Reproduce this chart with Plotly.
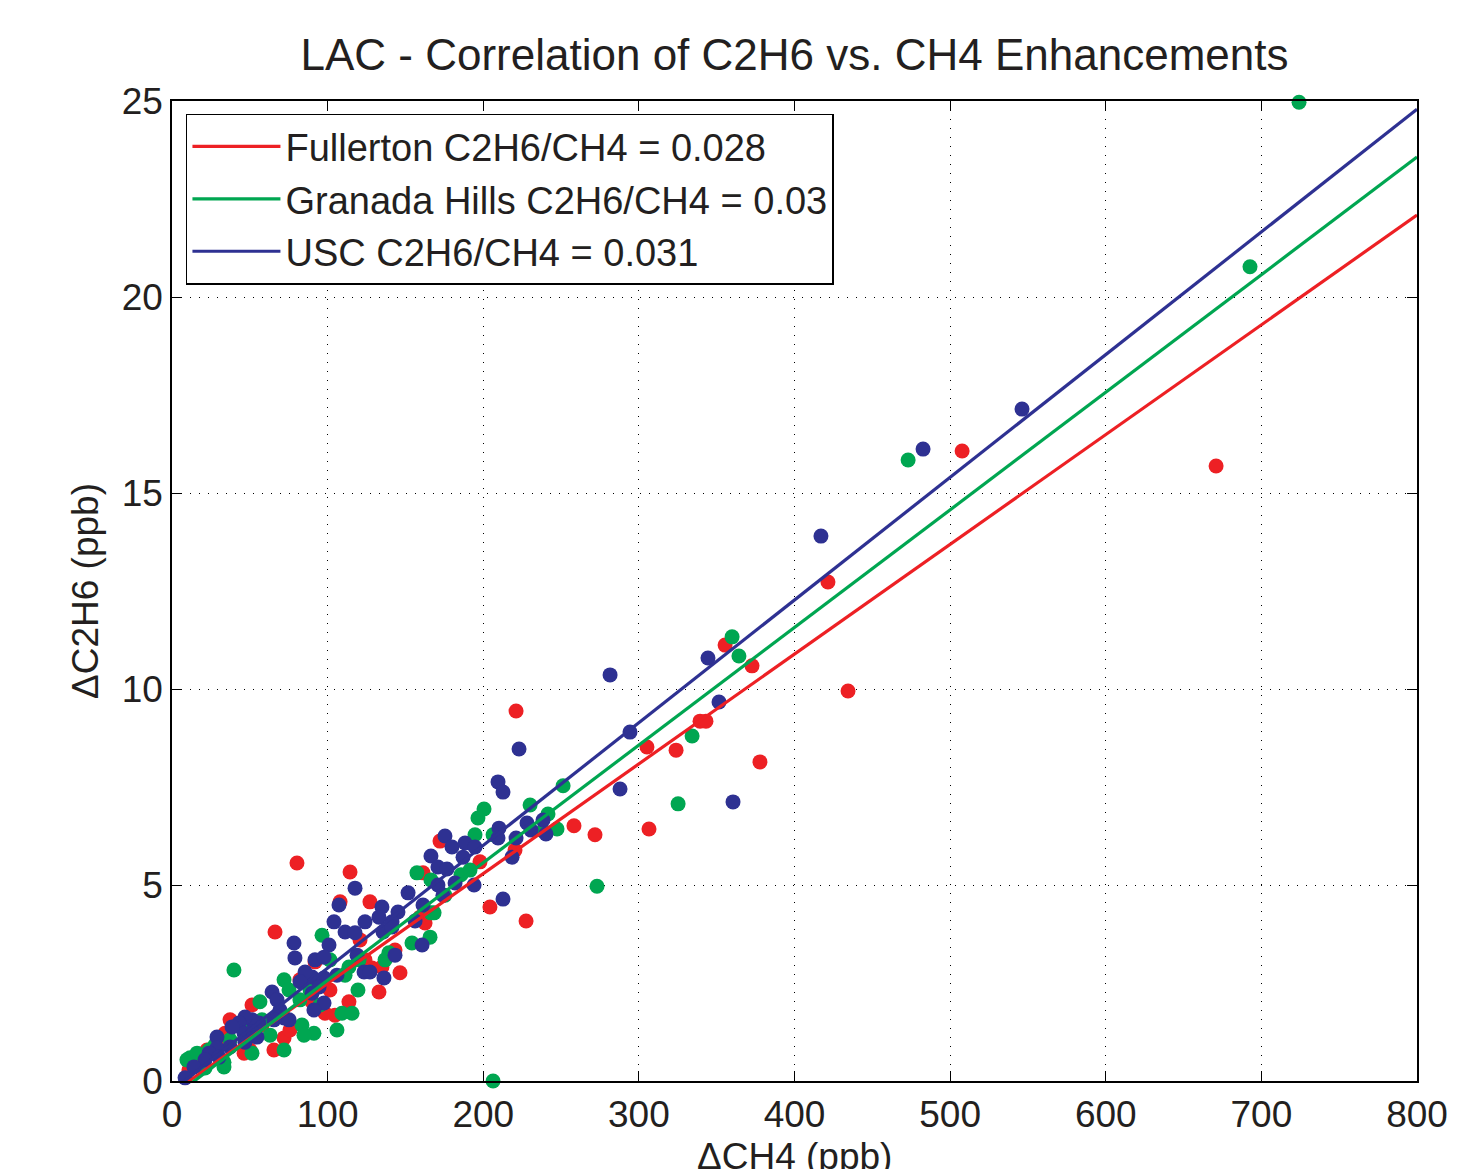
import plotly.graph_objects as go

# ---------------- data ----------------
fullerton_ch4 = [670.9, 507.7, 421.5, 434.4, 372.7, 355.4, 377.8, 339.3, 343.1, 305.2,
                 323.9, 306.5, 271.8, 258.3, 221.1, 227.5, 204.3, 220.4, 197.9, 161.3,
                 162.6, 172.2, 80.3, 66.2, 114.4, 108.0, 127.2, 159.4, 146.5, 133.0,
                 113.7, 104.7, 98.3, 72.0, 65.5, 51.4, 46.3, 50.1, 34.1, 32.1,
                 10.9, 12.9, 17.4, 22.5, 90.0, 124.0, 128.5, 91.9, 134.9, 82.2,
                 101.5, 120.8, 143.3, 57.8, 37.3, 75.8]
fullerton_c2h6 = [15.69, 16.07, 12.73, 9.95, 10.59, 11.12, 8.14, 9.18, 9.18, 8.52,
                  8.44, 6.43, 6.28, 6.51, 9.44, 4.08, 4.44, 5.89, 5.59, 5.31,
                  4.03, 6.12, 5.56, 3.80, 5.33, 4.57, 4.57, 4.18, 2.76, 2.27,
                  2.02, 1.68, 1.73, 1.10, 0.79, 1.94, 0.71, 0.79, 1.22, 1.05,
                  0.28, 0.36, 0.54, 0.79, 2.02, 3.09, 2.88, 3.04, 2.91, 2.58,
                  2.32, 3.60, 3.34, 1.43, 1.56, 1.30]

granada_ch4 = [724.2, 692.7, 473.0, 359.9, 364.3, 334.2, 325.2, 273.1, 251.3, 206.3,
               230.1, 200.5, 196.6, 194.7, 206.3, 241.6, 238.4, 247.4, 157.4, 166.4,
               165.8, 39.8, 96.4, 72.0, 56.5, 63.0, 72.0, 83.5, 91.2, 106.0,
               109.2, 115.7, 84.8, 154.2, 168.4, 33.4, 21.2, 11.6, 9.6, 16.1,
               23.8, 51.4, 75.2, 113.7, 136.9, 139.4, 120.2, 175.4, 185.7, 191.5,
               166.4, 101.5, 88.7, 111.2, 119.5, 82.2, 95.1, 46.9, 57.8, 37.3,
               27.6, 33.4]
granada_c2h6 = [24.97, 20.77, 15.84, 11.33, 10.84, 8.80, 7.07, 4.97, 7.53, 0.00,
                7.04, 6.94, 6.71, 6.28, 6.28, 6.81, 6.38, 6.43, 5.31, 4.29,
                3.67, 2.83, 3.72, 2.58, 2.02, 1.17, 0.79, 1.43, 1.22, 1.30,
                1.73, 1.73, 1.17, 3.52, 4.29, 0.36, 0.33, 0.59, 0.54, 0.71,
                0.79, 0.71, 2.32, 2.91, 3.09, 3.27, 3.09, 4.74, 5.26, 5.38,
                5.13, 3.09, 2.32, 2.70, 2.32, 2.07, 1.94, 1.56, 1.56, 1.05,
                0.92, 0.48]

usc_ch4 = [546.2, 482.6, 417.0, 281.5, 344.4, 351.5, 294.3, 287.9, 360.5, 223.0,
           209.5, 212.7, 212.7, 228.1, 238.4, 240.3, 230.7, 210.1, 209.5, 221.1,
           218.5, 175.4, 179.9, 188.3, 194.7, 187.0, 166.4, 170.9, 176.7, 170.9,
           181.9, 194.1, 174.1, 151.7, 161.3, 145.2, 156.2, 134.9, 141.4, 135.6,
           117.6, 107.3, 104.1, 111.2, 117.6, 124.0, 133.0, 141.4, 160.7, 143.3,
           136.2, 123.4, 127.2, 118.9, 78.4, 79.0, 91.9, 100.9, 97.7, 106.0,
           97.7, 90.0, 85.5, 94.5, 90.0, 97.7, 91.2, 82.3, 64.3, 67.5,
           69.4, 72.0, 65.5, 75.2, 55.9, 51.4, 46.9, 43.1, 51.4, 46.3,
           38.6, 54.6, 46.9, 37.3, 28.9, 28.9, 23.8, 30.2, 21.2, 14.1,
           8.4]
usc_c2h6 = [17.14, 16.12, 13.90, 10.36, 10.79, 9.67, 8.90, 7.45, 7.12, 8.47,
            7.63, 7.37, 4.64, 6.58, 6.66, 6.30, 6.40, 6.45, 6.20, 6.20,
            5.71, 6.25, 5.97, 6.07, 5.97, 5.71, 5.74, 5.46, 5.41, 5.00,
            5.05, 5.00, 4.74, 4.80, 4.49, 4.31, 4.08, 4.44, 4.06, 3.80,
            4.92, 4.49, 4.06, 3.80, 3.78, 4.06, 4.18, 3.93, 3.47, 3.21,
            2.63, 2.78, 2.78, 3.21, 3.52, 3.14, 3.09, 3.47, 3.16, 2.70,
            2.63, 2.65, 2.78, 2.40, 2.24, 1.99, 1.81, 2.53, 2.27, 2.07,
            1.81, 1.61, 1.56, 1.56, 1.48, 1.56, 1.63, 1.48, 1.25, 1.22,
            1.38, 1.12, 0.99, 0.87, 1.12, 0.84, 0.71, 0.61, 0.54, 0.36,
            0.08]

site_names = ["Fullerton C2H6/CH4 = 0.028",
              "Granada Hills C2H6/CH4 = 0.03",
              "USC C2H6/CH4 = 0.031"]
fit_slopes = [0.0280, 0.0300, 0.0313]
fit_intercepts = [-0.31, -0.43, -0.25]
fit_x_range = [0, 800]

x_ticks = [0, 100, 200, 300, 400, 500, 600, 700, 800]
y_ticks = [0, 5, 10, 15, 20, 25]
x_title = "ΔCH4 (ppb)"
y_title = "ΔC2H6 (ppb)"

colors = ["#ED2024", "#00A651", "#2E3192"]

# ---------------- figure ----------------
FONT = "Liberation Sans, Arial, sans-serif"
TXT = "#231F20"
W, H = 1475, 1161   # page adds an 8 px body margin
M = dict(l=164, r=66, t=93, b=88)
PLOT_H = H - M["t"] - M["b"]

fig = go.Figure()

series = [(fullerton_ch4, fullerton_c2h6), (granada_ch4, granada_c2h6), (usc_ch4, usc_c2h6)]
for (xs, ys), c in zip(series, colors):
    fig.add_trace(go.Scatter(x=xs, y=ys, mode="markers",
                             marker=dict(color=c, size=15, line=dict(width=0)),
                             showlegend=False, cliponaxis=False))

for name, m, b, c in zip(site_names, fit_slopes, fit_intercepts, colors):
    xs = fit_x_range
    ys = [m * v + b for v in xs]
    fig.add_trace(go.Scatter(x=xs, y=ys, mode="lines", name=name,
                             line=dict(color=c, width=3.2)))

axis_common = dict(
    showline=True, linecolor="black", linewidth=1.5, mirror="ticks",
    ticks="inside", ticklen=10, tickwidth=1, tickcolor="black",
    showgrid=True, gridcolor="black", gridwidth=1, griddash="1px,8px",
    zeroline=False, tickfont=dict(size=37, color=TXT, family=FONT),
)

fig.update_xaxes(range=[0, 800], tickvals=x_ticks, ticktext=[str(v) for v in x_ticks],
                 automargin=False, **axis_common)
fig.update_yaxes(range=[0, 25], tickvals=y_ticks, ticktext=[str(v) for v in y_ticks],
                 title=dict(text=y_title, font=dict(size=37, color=TXT, family=FONT), standoff=12),
                 automargin=False, **axis_common)

# x-axis title placed as in the reference (partly below the page edge)
fig.add_annotation(text=x_title, xref="paper", yref="paper",
                   x=0.5, y=-(1126 - (H - M["b"])) / PLOT_H + 0.0,
                   xanchor="center", yanchor="top", showarrow=False,
                   font=dict(size=37, color=TXT, family=FONT))

fig.update_layout(
    width=W, height=H,
    margin=M,
    paper_bgcolor="white", plot_bgcolor="white",
    font=dict(family=FONT, color=TXT),
    title=dict(text="LAC - Correlation of C2H6 vs. CH4 Enhancements",
               x=786.5 / W, xanchor="center",
               y=1 - 47 / H, yanchor="middle", yref="container",
               font=dict(size=44, color=TXT, family=FONT)),
    legend=dict(x=0.0112, y=0.987, xanchor="left", yanchor="top",
                bgcolor="white", bordercolor="black", borderwidth=1.5,
                font=dict(size=38, color=TXT, family=FONT),
                itemwidth=88, tracegroupgap=0),
    showlegend=True,
)

fig.write_html("out.html")
